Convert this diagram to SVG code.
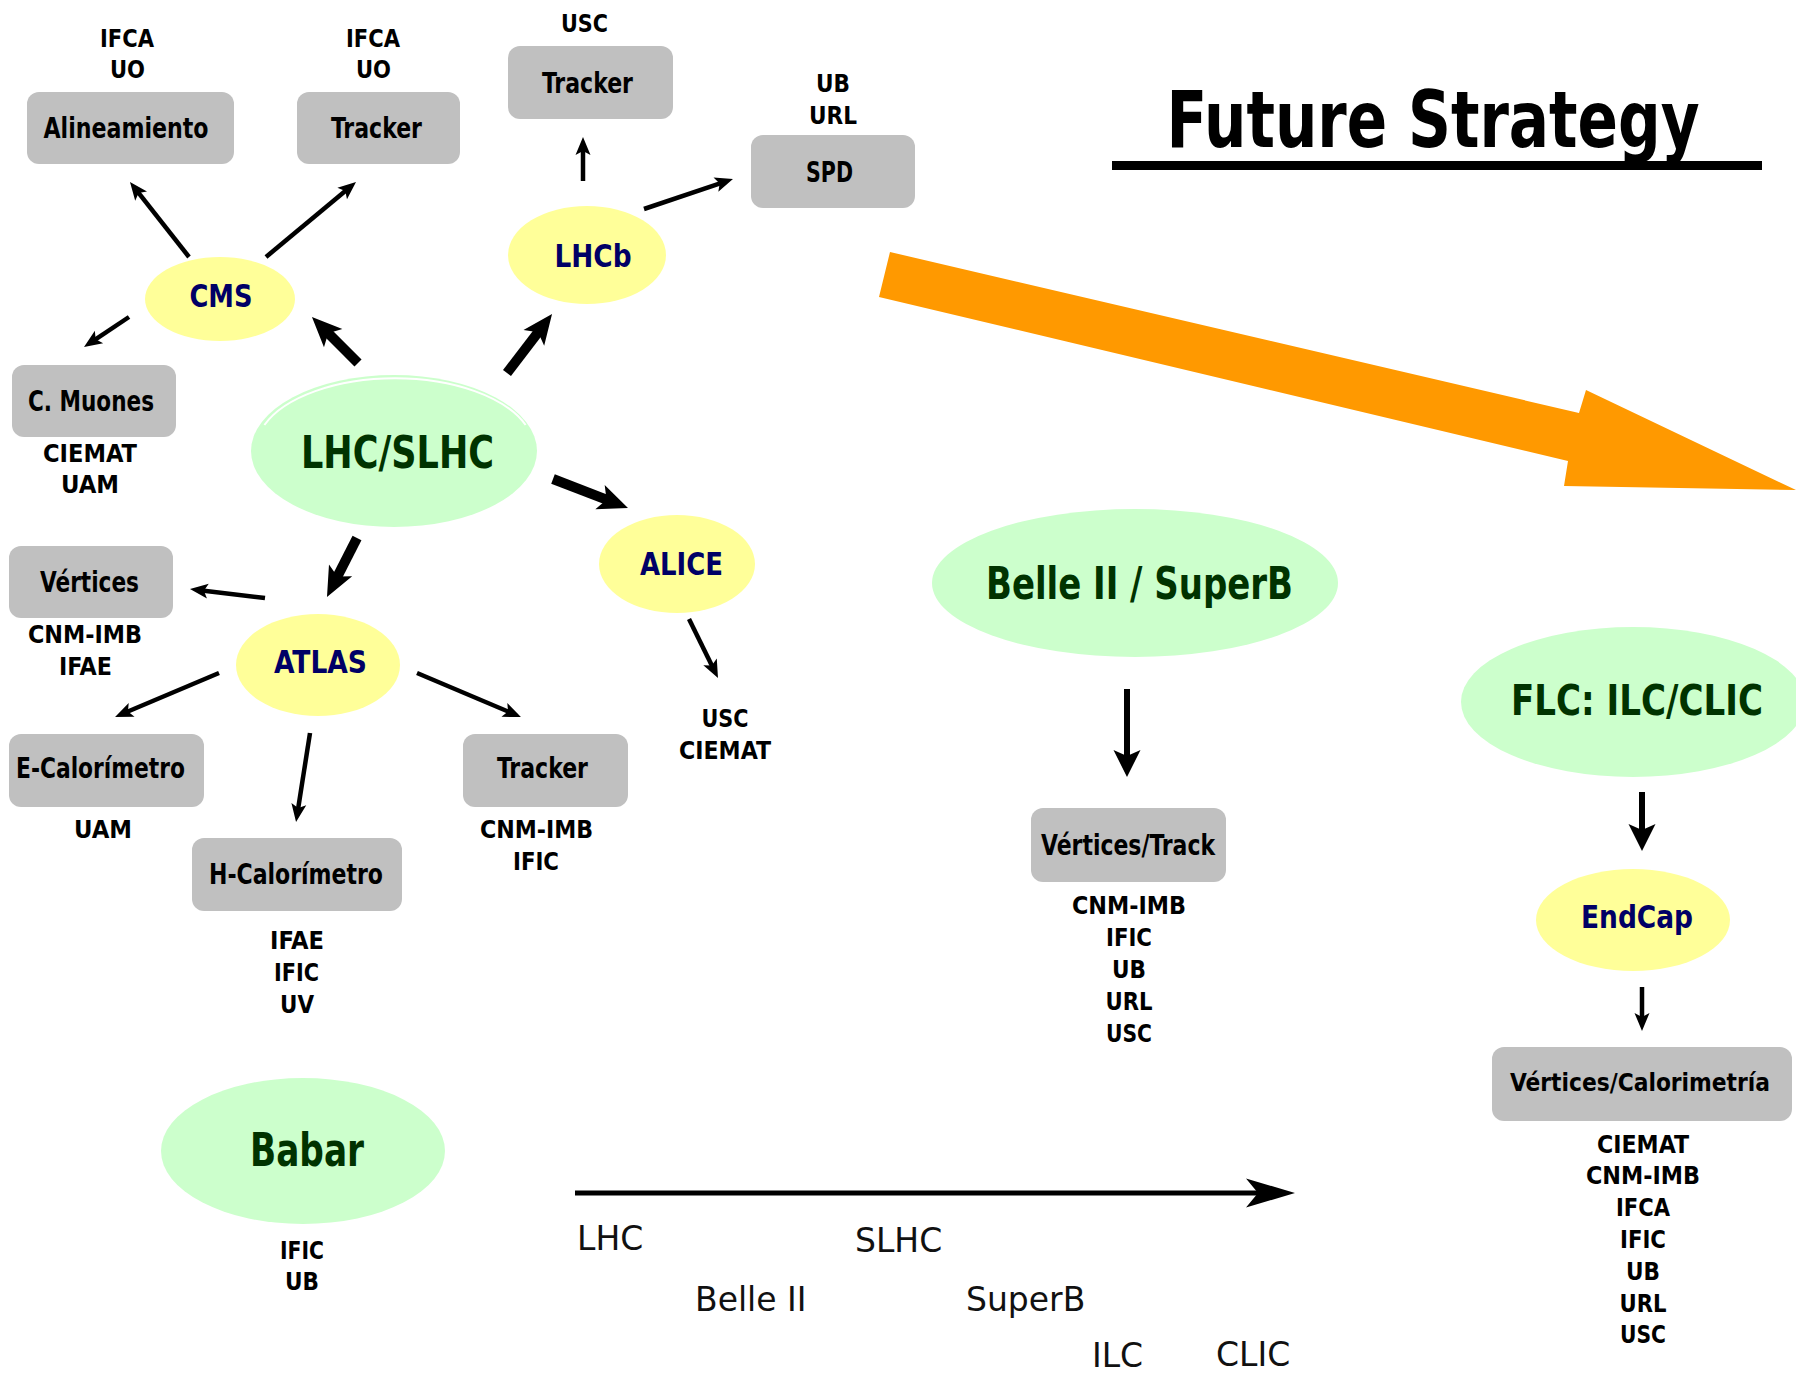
<svg xmlns="http://www.w3.org/2000/svg" width="1796" height="1376" viewBox="0 0 1796 1376">
<style>
text{font-family:"DejaVu Sans Condensed","DejaVu Sans",sans-serif;font-stretch:condensed;font-weight:bold;text-anchor:middle}
.org{font-size:25px;fill:#000}
.box{fill:#c0c0c0}
.bl{font-size:29px;fill:#000}
.ye{fill:#ffff99}
.yl{font-size:32px;fill:#000066}
.gr{fill:#ccffcc}
.gl{fill:#003300}
.tl{font-family:"DejaVu Sans",sans-serif;font-stretch:normal;font-weight:normal;font-size:33px;fill:#111;text-anchor:start}
.c1{stroke:#000;stroke-width:4.5;fill:none;marker-end:url(#a1)}
.c2{stroke:#000;stroke-width:6;fill:none;marker-end:url(#a2)}
.c3{stroke:#000;stroke-width:10;fill:none;marker-end:url(#a3)}
</style>
<defs>
<marker id="a1" markerUnits="userSpaceOnUse" markerWidth="18" markerHeight="15" refX="6" refY="7.5" orient="auto" overflow="visible"><path d="M0,0 L18,7.5 L0,15 L4,7.5 z" fill="#000"/></marker>
<marker id="a2" markerUnits="userSpaceOnUse" markerWidth="27" markerHeight="27" refX="8" refY="13.5" orient="auto" overflow="visible"><path d="M0,0 L27,13.5 L0,27 L6,13.5 z" fill="#000"/></marker>
<marker id="a3" markerUnits="userSpaceOnUse" markerWidth="30" markerHeight="26" refX="9" refY="13" orient="auto" overflow="visible"><path d="M0,0 L30,13 L0,26 L7,13 z" fill="#000"/></marker>
<marker id="a4" markerUnits="userSpaceOnUse" markerWidth="49" markerHeight="29" refX="14" refY="14.5" orient="auto" overflow="visible"><path d="M0,0 L49,14.5 L0,29 L12,14.5 z" fill="#000"/></marker>
</defs>
<rect width="1796" height="1376" fill="#fff"/>

<g id="title">
<rect x="1112" y="161" width="650" height="9" fill="#000"/>
<text x="1433" y="147" font-size="78" textLength="533" lengthAdjust="spacingAndGlyphs" fill="#000">Future Strategy</text>
</g>

<g id="big-arrow">
<polygon points="890,252 1579,413 1586,390 1796,490 1564,486 1568,461 879,297" fill="#ff9900"/>
</g>

<g id="connectors">
<path class="c1" d="M189,257 L137.4,191.4"/>
<path class="c1" d="M266,257 L346.8,189.7"/>
<path class="c1" d="M129,317 L94,340.3"/>
<path class="c1" d="M583,181 L583,149"/>
<path class="c1" d="M644,209 L721.6,182.8"/>
<path class="c1" d="M265,598 L201.9,590.4"/>
<path class="c1" d="M219,673 L126.1,712.3"/>
<path class="c1" d="M310,733 L297.9,810.1"/>
<path class="c1" d="M417,673 L509.9,712.3"/>
<path class="c1" d="M689,619 L712.7,667.2"/>
<path class="c1" d="M1642,987 L1642,1019"/>
<path class="c2" d="M1127,689 L1127,758"/>
<path class="c2" d="M1642,792 L1642,832"/>
<path class="c3" d="M358,363 L326.8,331.8"/>
<path class="c3" d="M507,373 L539.3,330.7"/>
<path class="c3" d="M553,479 L608.4,500.4"/>
<path class="c3" d="M357,538 L336.5,578.3"/>
<path d="M575,1193 L1260,1193" stroke="#000" stroke-width="5" fill="none" marker-end="url(#a4)"/>
</g>

<g id="lhc">
<ellipse class="gr" cx="394" cy="451" rx="143" ry="76"/>
<path d="M264.4,425 A139,71 0 0 1 525.6,425" stroke="#fff" stroke-width="2" fill="none"/>
<text class="gl" x="397.5" y="468" font-size="45" textLength="193" lengthAdjust="spacingAndGlyphs">LHC/SLHC</text>
</g>

<g id="cms">
<ellipse class="ye" cx="220" cy="299" rx="75" ry="42"/>
<text class="yl" x="221" y="307" textLength="63" lengthAdjust="spacingAndGlyphs">CMS</text>
</g>
<g id="cms-alineamiento">
<text class="org" x="127" y="47" textLength="54" lengthAdjust="spacingAndGlyphs">IFCA</text>
<text class="org" x="127.5" y="78" textLength="35" lengthAdjust="spacingAndGlyphs">UO</text>
<rect class="box" x="27" y="92" width="207" height="72" rx="12"/>
<text class="bl" x="126" y="138" textLength="165" lengthAdjust="spacingAndGlyphs">Alineamiento</text>
</g>
<g id="cms-tracker">
<text class="org" x="373" y="47" textLength="54" lengthAdjust="spacingAndGlyphs">IFCA</text>
<text class="org" x="373.5" y="78" textLength="35" lengthAdjust="spacingAndGlyphs">UO</text>
<rect class="box" x="297" y="92" width="163" height="72" rx="12"/>
<text class="bl" x="376.5" y="138" textLength="91" lengthAdjust="spacingAndGlyphs">Tracker</text>
</g>
<g id="cms-muones">
<rect class="box" x="12" y="365" width="164" height="72" rx="12"/>
<text class="bl" x="91" y="411" textLength="126" lengthAdjust="spacingAndGlyphs">C. Muones</text>
<text class="org" x="90" y="462" textLength="94" lengthAdjust="spacingAndGlyphs">CIEMAT</text>
<text class="org" x="90" y="493" textLength="58" lengthAdjust="spacingAndGlyphs">UAM</text>
</g>

<g id="lhcb">
<ellipse class="ye" cx="587" cy="255" rx="79" ry="49"/>
<text class="yl" x="593" y="267" textLength="77" lengthAdjust="spacingAndGlyphs">LHCb</text>
</g>
<g id="lhcb-tracker">
<text class="org" x="584.5" y="32" textLength="47" lengthAdjust="spacingAndGlyphs">USC</text>
<rect class="box" x="508" y="46" width="165" height="73" rx="12"/>
<text class="bl" x="587.5" y="93" textLength="91" lengthAdjust="spacingAndGlyphs">Tracker</text>
</g>
<g id="lhcb-spd">
<text class="org" x="833" y="92" textLength="34" lengthAdjust="spacingAndGlyphs">UB</text>
<text class="org" x="833" y="124" textLength="48" lengthAdjust="spacingAndGlyphs">URL</text>
<rect class="box" x="751" y="135" width="164" height="73" rx="12"/>
<text class="bl" x="829.5" y="182" textLength="47" lengthAdjust="spacingAndGlyphs">SPD</text>
</g>

<g id="alice">
<ellipse class="ye" cx="677" cy="564" rx="78" ry="49"/>
<text class="yl" x="681.5" y="575" textLength="83" lengthAdjust="spacingAndGlyphs">ALICE</text>
</g>
<g id="alice-orgs">
<text class="org" x="725" y="727" textLength="47" lengthAdjust="spacingAndGlyphs">USC</text>
<text class="org" x="725" y="759" textLength="92" lengthAdjust="spacingAndGlyphs">CIEMAT</text>
</g>

<g id="atlas">
<ellipse class="ye" cx="318" cy="665" rx="82" ry="51"/>
<text class="yl" x="320.5" y="673" textLength="93" lengthAdjust="spacingAndGlyphs">ATLAS</text>
</g>
<g id="atlas-vertices">
<rect class="box" x="9" y="546" width="164" height="72" rx="12"/>
<text class="bl" x="89.5" y="592" textLength="99" lengthAdjust="spacingAndGlyphs">Vértices</text>
<text class="org" x="85" y="643" textLength="114" lengthAdjust="spacingAndGlyphs">CNM-IMB</text>
<text class="org" x="85.5" y="675" textLength="53" lengthAdjust="spacingAndGlyphs">IFAE</text>
</g>
<g id="atlas-ecal">
<rect class="box" x="9" y="734" width="195" height="73" rx="12"/>
<text class="bl" x="100.5" y="778" textLength="169" lengthAdjust="spacingAndGlyphs">E-Calorímetro</text>
<text class="org" x="103" y="838" textLength="58" lengthAdjust="spacingAndGlyphs">UAM</text>
</g>
<g id="atlas-tracker">
<rect class="box" x="463" y="734" width="165" height="73" rx="12"/>
<text class="bl" x="542.5" y="778" textLength="91" lengthAdjust="spacingAndGlyphs">Tracker</text>
<text class="org" x="536.5" y="838" textLength="113" lengthAdjust="spacingAndGlyphs">CNM-IMB</text>
<text class="org" x="536" y="870" textLength="46" lengthAdjust="spacingAndGlyphs">IFIC</text>
</g>
<g id="atlas-hcal">
<rect class="box" x="192" y="838" width="210" height="73" rx="12"/>
<text class="bl" x="296" y="884" textLength="174" lengthAdjust="spacingAndGlyphs">H-Calorímetro</text>
<text class="org" x="297" y="949" textLength="54" lengthAdjust="spacingAndGlyphs">IFAE</text>
<text class="org" x="296.5" y="981" textLength="45" lengthAdjust="spacingAndGlyphs">IFIC</text>
<text class="org" x="297" y="1013" textLength="34" lengthAdjust="spacingAndGlyphs">UV</text>
</g>

<g id="babar">
<ellipse class="gr" cx="303" cy="1151" rx="142" ry="73"/>
<text class="gl" x="307" y="1166" font-size="46" textLength="114" lengthAdjust="spacingAndGlyphs">Babar</text>
<text class="org" x="302" y="1259" textLength="44" lengthAdjust="spacingAndGlyphs">IFIC</text>
<text class="org" x="302" y="1290" textLength="34" lengthAdjust="spacingAndGlyphs">UB</text>
</g>

<g id="belle">
<ellipse class="gr" cx="1135" cy="583" rx="203" ry="74"/>
<text class="gl" x="1139.5" y="599" font-size="44" textLength="307" lengthAdjust="spacingAndGlyphs">Belle II / SuperB</text>
</g>
<g id="belle-vertices">
<rect class="box" x="1031" y="808" width="195" height="74" rx="12"/>
<text class="bl" x="1128" y="855" textLength="174" lengthAdjust="spacingAndGlyphs">Vértices/Track</text>
<text class="org" x="1129" y="914" textLength="114" lengthAdjust="spacingAndGlyphs">CNM-IMB</text>
<text class="org" x="1129" y="946" textLength="46" lengthAdjust="spacingAndGlyphs">IFIC</text>
<text class="org" x="1129" y="978" textLength="34" lengthAdjust="spacingAndGlyphs">UB</text>
<text class="org" x="1129" y="1010" textLength="47" lengthAdjust="spacingAndGlyphs">URL</text>
<text class="org" x="1129" y="1042" textLength="46" lengthAdjust="spacingAndGlyphs">USC</text>
</g>

<g id="flc">
<ellipse class="gr" cx="1633" cy="702" rx="172" ry="75"/>
<text class="gl" x="1637" y="715" font-size="42" textLength="252" lengthAdjust="spacingAndGlyphs">FLC: ILC/CLIC</text>
</g>
<g id="endcap">
<ellipse class="ye" cx="1633" cy="920" rx="97" ry="51"/>
<text class="yl" x="1637" y="928" textLength="112" lengthAdjust="spacingAndGlyphs">EndCap</text>
</g>
<g id="flc-vertices">
<rect class="box" x="1492" y="1047" width="300" height="74" rx="12"/>
<text x="1640" y="1091" font-size="25" fill="#000" textLength="260" lengthAdjust="spacingAndGlyphs">Vértices/Calorimetría</text>
<text class="org" x="1643" y="1153" textLength="92" lengthAdjust="spacingAndGlyphs">CIEMAT</text>
<text class="org" x="1643" y="1184" textLength="114" lengthAdjust="spacingAndGlyphs">CNM-IMB</text>
<text class="org" x="1643" y="1216" textLength="54" lengthAdjust="spacingAndGlyphs">IFCA</text>
<text class="org" x="1643" y="1248" textLength="46" lengthAdjust="spacingAndGlyphs">IFIC</text>
<text class="org" x="1643" y="1280" textLength="34" lengthAdjust="spacingAndGlyphs">UB</text>
<text class="org" x="1643" y="1312" textLength="47" lengthAdjust="spacingAndGlyphs">URL</text>
<text class="org" x="1643" y="1343" textLength="46" lengthAdjust="spacingAndGlyphs">USC</text>
</g>

<g id="timeline">
<text class="tl" x="577" y="1250">LHC</text>
<text class="tl" x="855" y="1252">SLHC</text>
<text class="tl" x="695" y="1311">Belle II</text>
<text class="tl" x="966" y="1311">SuperB</text>
<text class="tl" x="1092" y="1367">ILC</text>
<text class="tl" x="1216" y="1366">CLIC</text>
</g>
</svg>
